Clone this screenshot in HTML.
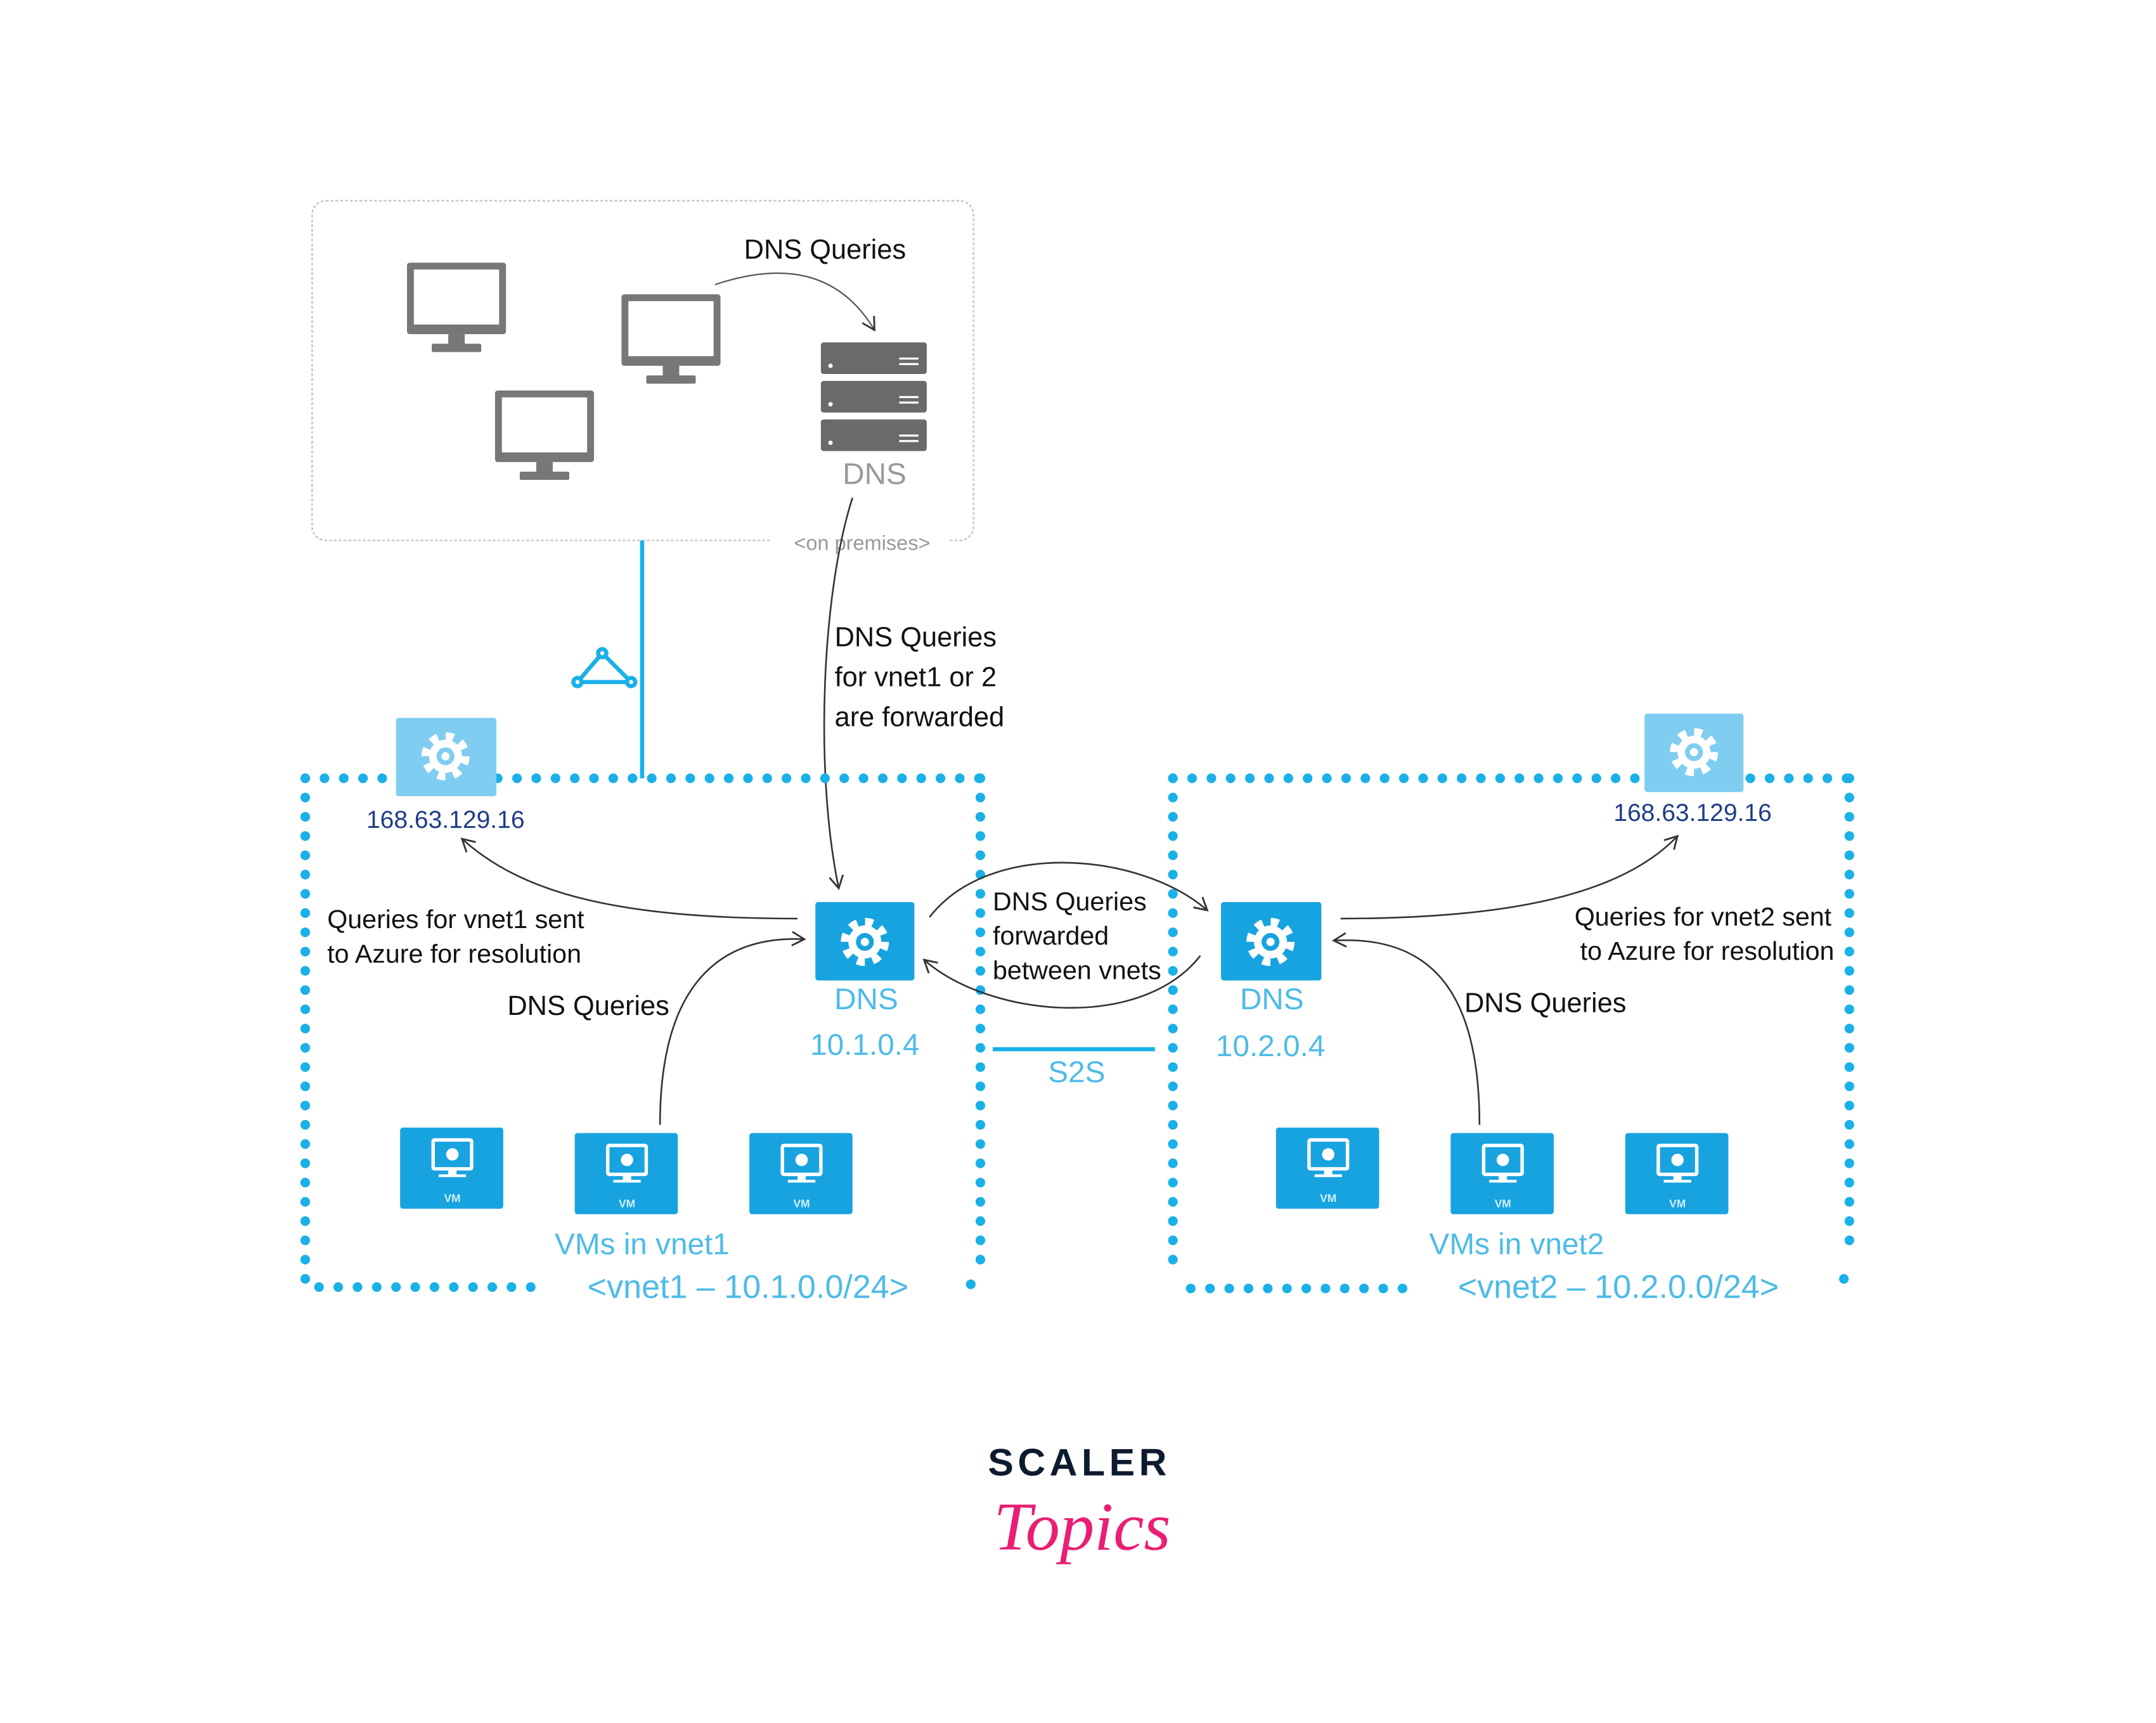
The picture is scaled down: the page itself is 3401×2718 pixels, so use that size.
<!DOCTYPE html>
<html><head><meta charset="utf-8"><style>
html,body{margin:0;padding:0;background:#fff}
svg{display:block}
text{font-family:"Liberation Sans",sans-serif}
</style></head><body>
<svg width="3401" height="2718" viewBox="0 0 1568 1253" preserveAspectRatio="none" xmlns="http://www.w3.org/2000/svg">
<defs>
<marker id="ah" viewBox="0 0 12 12" refX="10" refY="6" markerWidth="12" markerHeight="12" markerUnits="userSpaceOnUse" orient="auto">
<path d="M1,1 L10,6 L1,11" fill="none" stroke="#333" stroke-width="1.3"/></marker>
<g id="gear">
<circle r="14" fill="none" stroke="#fff" stroke-width="7" stroke-dasharray="5.5 5.5"/>
<circle r="12" fill="#fff"/><circle r="6.5" fill="currentColor"/><circle r="3" fill="#fff"/>
</g>
<g id="mon" fill="#777">
<rect x="-36" y="-34" width="72" height="52" rx="2"/>
<rect x="-31" y="-29" width="62" height="40" fill="#fff"/>
<rect x="-6" y="18" width="12" height="8"/>
<rect x="-18" y="25" width="36" height="6" rx="1"/>
</g>
<g id="vm">
<rect x="0" y="0" width="75" height="59" rx="2" fill="#17a3df"/>
<rect x="24" y="9" width="28" height="21" rx="1" fill="none" stroke="#fff" stroke-width="2.5"/>
<circle cx="38" cy="19.5" r="4.5" fill="#fff"/>
<rect x="35" y="30" width="6" height="4" fill="#fff"/>
<rect x="28" y="34" width="20" height="2" fill="#fff"/>
<text x="38" y="54" font-size="8" font-weight="bold" fill="#cfefff" text-anchor="middle">VM</text>
</g>
</defs>

<rect x="227" y="146" width="481" height="247" rx="10" fill="none" stroke="#c8c8c8" stroke-width="1.2" stroke-dasharray="2 1.5"/>
<use href="#mon" x="332" y="225"/>
<use href="#mon" x="488" y="248"/>
<use href="#mon" x="396" y="318"/>
<g fill="#6a6a6a">
<rect x="597" y="249" width="77" height="23" rx="2"/>
<rect x="597" y="277" width="77" height="23" rx="2"/>
<rect x="597" y="305" width="77" height="23" rx="2"/>
</g>
<g fill="#fff"><circle cx="604" cy="266" r="1.6"/><circle cx="604" cy="294" r="1.6"/><circle cx="604" cy="322" r="1.6"/>
<rect x="654" y="260" width="14" height="1.5"/><rect x="654" y="264" width="14" height="1.5"/>
<rect x="654" y="288" width="14" height="1.5"/><rect x="654" y="292" width="14" height="1.5"/>
<rect x="654" y="316" width="14" height="1.5"/><rect x="654" y="320" width="14" height="1.5"/></g>
<text x="636" y="352" font-size="22" fill="#999" text-anchor="middle">DNS</text>
<text x="600" y="188" font-size="20" fill="#111" text-anchor="middle">DNS Queries</text>
<path d="M520,207 Q600,180 636,240" fill="none" stroke="#555" stroke-width="1" marker-end="url(#ah)"/>
<rect x="560" y="386" width="130" height="16" fill="#fff"/>
<text x="627" y="400" font-size="15" fill="#999" text-anchor="middle">&lt;on premises&gt;</text>

<path d="M620,362 C598,430 592,560 610,646" fill="none" stroke="#333" stroke-width="1.2" marker-end="url(#ah)"/>
<text font-size="20" fill="#111"><tspan x="607" y="470">DNS Queries</tspan><tspan x="607" y="499">for vnet1 or 2</tspan><tspan x="607" y="528">are forwarded</tspan></text>

<line x1="467" y1="393" x2="467" y2="566" stroke="#1ab0e8" stroke-width="3"/>
<g stroke="#1ab0e8" stroke-width="3" fill="#fff">
<path d="M438,475 L420,496 L459,496 Z" fill="none"/>
<circle cx="438" cy="475" r="3"/><circle cx="420" cy="496" r="3"/><circle cx="459" cy="496" r="3"/></g>

<g stroke="#1ab0e8" stroke-width="7" stroke-linecap="round" stroke-dasharray="0 14" fill="none">
<line x1="222" y1="566" x2="713" y2="566"/>
<line x1="222" y1="566" x2="222" y2="936"/>
<line x1="713" y1="566" x2="713" y2="924"/>
<line x1="232" y1="936" x2="395" y2="936"/>
<line x1="853" y1="566" x2="1345" y2="566"/>
<line x1="853" y1="566" x2="853" y2="930"/>
<line x1="1345" y1="566" x2="1345" y2="916"/>
<line x1="866" y1="937" x2="1028" y2="937"/>
</g>
<circle cx="706" cy="934" r="3.5" fill="#1ab0e8"/>
<circle cx="1341" cy="930" r="3.5" fill="#1ab0e8"/>

<rect x="288" y="522" width="73" height="57" rx="2" fill="#7fcdf0"/>
<use href="#gear" x="324" y="550" color="#7fcdf0"/>
<rect x="1196" y="519" width="72" height="57" rx="2" fill="#7fcdf0"/>
<use href="#gear" x="1232" y="547" color="#7fcdf0"/>
<text x="324" y="602" font-size="18" fill="#1f3c88" text-anchor="middle">168.63.129.16</text>
<text x="1231" y="597" font-size="18" fill="#1f3c88" text-anchor="middle">168.63.129.16</text>

<rect x="593" y="656" width="72" height="57" rx="2" fill="#17a3df"/>
<use href="#gear" x="629" y="685" color="#17a3df"/>
<rect x="888" y="656" width="73" height="57" rx="2" fill="#17a3df"/>
<use href="#gear" x="924" y="685" color="#17a3df"/>
<g fill="#4dbbe8" font-size="22" text-anchor="middle">
<text x="630" y="734">DNS</text><text x="629" y="767">10.1.0.4</text>
<text x="925" y="734">DNS</text><text x="924" y="768">10.2.0.4</text>
<text x="783" y="787">S2S</text>
<text x="467" y="912">VMs in vnet1</text>
<text x="1103" y="912">VMs in vnet2</text>
<text x="544" y="944" font-size="24">&lt;vnet1 – 10.1.0.0/24&gt;</text>
<text x="1177" y="944" font-size="24">&lt;vnet2 – 10.2.0.0/24&gt;</text>
</g>
<line x1="722" y1="763" x2="840" y2="763" stroke="#1ab0e8" stroke-width="3"/>

<use href="#vm" x="291" y="820"/><use href="#vm" x="418" y="824"/><use href="#vm" x="545" y="824"/>
<use href="#vm" x="928" y="820"/><use href="#vm" x="1055" y="824"/><use href="#vm" x="1182" y="824"/>

<g fill="none" stroke="#333" stroke-width="1.2" marker-end="url(#ah)">
<path d="M580,668 C450,668 380,650 336,610"/>
<path d="M480,818 C480,720 520,680 585,683"/>
<path d="M676,667 C720,610 830,620 878,662"/>
<path d="M873,695 C830,750 720,740 672,698"/>
<path d="M975,668 C1100,668 1180,650 1220,608"/>
<path d="M1076,818 C1076,720 1040,680 970,684"/>
</g>

<g font-size="19" fill="#111">
<text x="238" y="675">Queries for vnet1 sent</text>
<text x="238" y="700">to Azure for resolution</text>
<text x="369" y="738" font-size="20">DNS Queries</text>
<text x="1332" y="673" text-anchor="end">Queries for vnet2 sent</text>
<text x="1334" y="698" text-anchor="end">to Azure for resolution</text>
<text x="1065" y="736" font-size="20">DNS Queries</text>
<text x="722" y="662">DNS Queries</text>
<text x="722" y="687">forwarded</text>
<text x="722" y="712">between vnets</text>
</g>

<text x="785" y="1073" font-size="28" font-weight="bold" fill="#0d1b2e" text-anchor="middle" letter-spacing="3">SCALER</text>
<text x="787" y="1127" font-size="50" font-style="italic" fill="#e91e74" text-anchor="middle" style="font-family:'Liberation Serif',serif">Topics</text>
</svg>
</body></html>
